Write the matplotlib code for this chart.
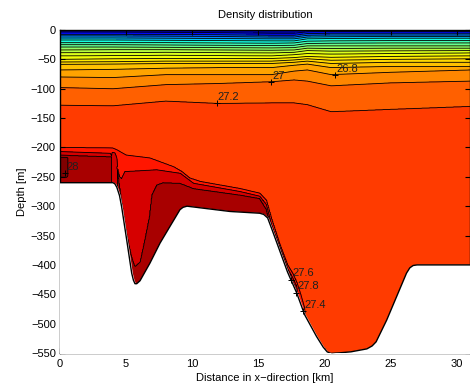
import numpy as np
import matplotlib
matplotlib.use("Agg")
from matplotlib import pyplot as plt

plt.rcParams['font.family'] = ['Liberation Sans', 'DejaVu Sans']
plt.rcParams['font.size'] = 8

# upper isopycnals: depth [m] of each level at each station [km]
stations = [0, 4, 8, 12, 16, 17.7, 18.7, 20.5, 25, 31]
upper_levels = [23.4, 23.8, 24.1, 24.4, 24.7, 25.0, 25.25, 25.5, 25.75,
                26.0, 26.2, 26.3, 26.4, 26.5, 26.65, 26.8, 27.0, 27.2]
upper_depth = [
    [-3.4, -3.5, -4, -4.5, -5.5, -5.5, -3, -2.5, -2.5, -2.5],
    [-7.4, -7.4, -7.5, -8, -9, -9, -6, -5.5, -5.5, -5.5],
    [-10, -10, -10.5, -11, -12, -12, -9, -8.5, -8.5, -8.5],
    [-13.6, -13.5, -14, -14.5, -15, -15, -12, -11.5, -11, -11],
    [-17, -17, -17.5, -18, -18.5, -18.5, -15, -14.5, -14, -14],
    [-21.6, -21.5, -21.5, -22, -22.5, -22, -19, -18.5, -18, -18],
    [-25, -25, -25.5, -26, -26.5, -26, -23, -22.5, -22, -22],
    [-29, -29, -29.5, -30, -30.5, -30, -27, -27, -27, -27],
    [-34, -33.5, -33.5, -34, -34.5, -34, -31, -31.5, -31, -31],
    [-38.6, -38.5, -38, -38.5, -39, -38, -35, -36, -35.5, -35],
    [-44, -43.5, -43, -43.5, -44, -42, -40, -41, -40, -39],
    [-50, -49, -48.5, -48.5, -48.5, -47, -45, -46.5, -45, -44],
    [-54.5, -54, -53, -53, -53, -51, -49, -51.5, -50, -49],
    [-58.5, -58, -57, -57, -57, -55, -53, -57, -55, -55],
    [-68, -67, -65, -64, -64, -60, -58, -64, -62, -62],
    [-80, -81, -76, -76, -76, -70, -68, -76, -72, -68],
    [-98, -100, -93, -91, -88, -85, -87, -95, -90, -87],
    [-128, -129, -121, -125, -124, -124, -127, -139, -135, -130],
]

# deep isopycnals (27.4, 27.6, 27.8), each with its own stations
x27_4 = [0, 4.0, 4.3, 5.0, 6.8, 8.6, 9.2, 9.8, 10.6, 13.6, 15.1, 15.6,
         16.0, 16.6, 17.2, 17.6, 17.9, 18.2, 18.5, 18.7, 31]
z27_4 = [-200, -201, -204, -213, -218, -233, -241, -252, -258, -270, -278,
         -290, -322, -364, -400, -415, -430, -450, -474, -600, -600]
x27_6 = [0, 3.8, 4.3, 4.5, 4.65, 4.9, 7.3, 9.1, 10.1, 13.6, 15.1, 15.6,
         16.0, 16.6, 17.2, 17.6, 17.9, 18.2, 31]
z27_6 = [-207, -210, -233, -250, -253, -241, -238, -244, -261, -275, -283,
         -297, -332, -369, -406, -422, -437, -610, -610]
x27_8 = [0, 4.16, 4.4, 4.66, 5.04, 5.42, 5.67, 6.05, 6.4, 6.75, 6.93, 7.3,
         7.8, 9.07, 10.1, 13.6, 15.1, 15.6, 16.0, 16.6, 17.2, 17.6, 17.9,
         18.1, 31]
z27_8 = [-213, -216, -244, -290, -346, -386, -403, -395, -358, -318, -281,
         -264, -260, -261, -270, -281, -287, -305, -337, -372, -409, -428,
         -444, -620, -620]
deep_levels = [27.4, 27.6, 27.8, 28.0]

# dense lens (>28) at the left boundary
lens_x = [0, 0.5, 0.75]
lens_rho = [28.06, 28.06, 27.9]
lens_top, lens_bot = -218, -248

surface_rho = 23.0
deep_rho = 27.95

# bathymetry
bottom_x = [0, 4.0, 4.15, 4.3, 4.5, 4.66, 5.04, 5.42, 5.55, 5.67, 5.8, 6.05,
            6.8, 7.56, 8.3, 8.7, 9.07, 9.3, 9.6, 12.85, 15.1, 15.4, 15.7,
            16.0, 16.6, 17.2, 17.9, 18.5, 19.4, 19.9, 20.2, 20.5, 22.0, 23.2,
            23.6, 23.9, 24.7, 25.45, 26.2, 26.45, 26.7, 27.0, 31]
bottom_z = [-260, -260, -262, -268, -282, -301, -357, -414, -426, -432, -432,
            -427, -397, -363, -335, -320, -306, -302, -300, -309, -312, -314,
            -320, -338, -375, -412, -448, -485, -522, -540, -548, -551, -548,
            -543, -538, -531, -494, -454, -414, -405, -401, -400, -400]

labels = [(27.2, 11.84, -125), (27.0, 15.95, -88), (26.8, 20.8, -77),
          (28.0, 0.4, -244), (27.6, 17.5, -425), (27.8, 17.85, -447),
          (27.4, 18.4, -478)]

line_levels = upper_levels + deep_levels
fill_levels = [22.8] + line_levels + [28.2]

# ---- build the density section column by column
xg = np.linspace(0, 31, 621)
zg = np.linspace(0, -560, 1121)
rho = np.zeros((len(zg), len(xg)))
deep = [(27.4, x27_4, z27_4), (27.6, x27_6, z27_6), (27.8, x27_8, z27_8)]
for i, x in enumerate(xg):
    nodes = [(0.0, surface_rho)]
    for lev, row in zip(upper_levels, upper_depth):
        nodes.append((np.interp(x, stations, row), lev))
    for lev, xs, zs in deep:
        nodes.append((np.interp(x, xs, zs), lev))
    if x <= lens_x[-1]:
        lv = np.interp(x, lens_x, lens_rho)
        nodes += [(lens_top, lv), (lens_bot, lv), (lens_bot - 5, deep_rho)]
    nodes.append((-1000.0, deep_rho))
    nodes.sort(key=lambda n: -n[0])
    d = np.array([-n[0] for n in nodes])
    r = np.array([n[1] for n in nodes])
    rho[:, i] = np.interp(-zg, d, r)

fig = plt.figure(figsize=(4.70, 3.91), dpi=100)
ax = fig.add_axes([60 / 470, 1 - 353 / 391, 410 / 470, 323 / 391])

ax.contourf(xg, zg, rho, levels=fill_levels, cmap='jet',
            vmin=22.9, vmax=28.1, zorder=1)
ax.contour(xg, zg, rho, levels=line_levels, colors='k',
           linewidths=0.6, zorder=2)

ax.fill_between(bottom_x, bottom_z, -600, color='white', zorder=3)
ax.plot(bottom_x, bottom_z, color='k', lw=1.0, zorder=4)

for lev, lx, lz in labels:
    txt = '%g' % lev
    ax.plot(lx, lz, marker='+', color='k', ms=5, mew=0.7, zorder=5)
    ax.text(lx + 0.1, lz + 2, txt, ha='left', va='bottom', fontsize=8,
            color='#202020', zorder=5)

ax.set_xlim(0, 31)
ax.set_ylim(-550, 0)
ax.set_xticks(range(0, 31, 5))
ax.set_yticks(range(0, -551, -50))
ax.tick_params(direction='in', top=True, right=True, length=3.5, width=0.8,
               labelsize=8)
ax.tick_params(axis='x', pad=4)
ax.tick_params(axis='y', pad=3)
for s in ax.spines.values():
    s.set_linewidth(1.0)
ax.set_title('Density distribution', fontsize=8, pad=9)
ax.set_xlabel('Distance in x\u2212direction [km]', fontsize=8, labelpad=3)
ax.set_ylabel('Depth [m]', fontsize=8, labelpad=3)

fig.savefig('out.png', dpi=100)
